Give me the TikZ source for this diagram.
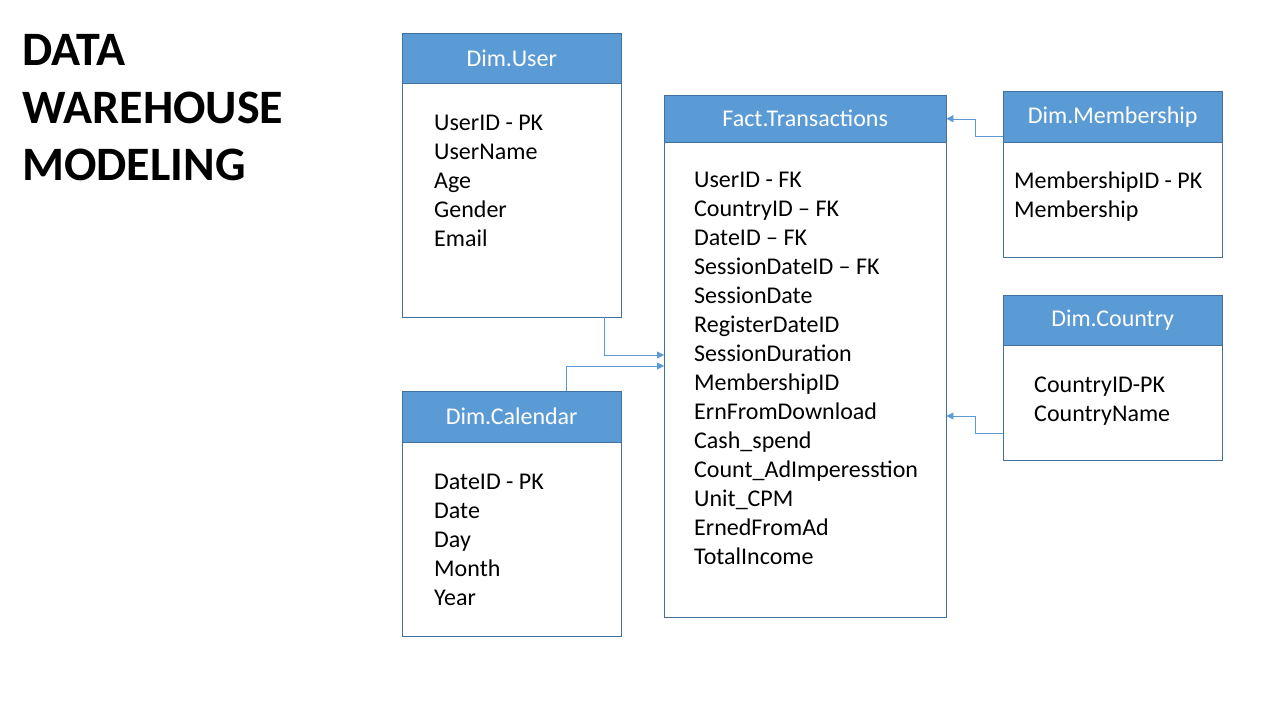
\documentclass[tikz,border=0pt]{standalone}
\usepackage{fontspec}
\setmainfont{Carlito}
\usepackage{tikz}
\usetikzlibrary{positioning,calc,arrows.meta}
\definecolor{hdrblue}{HTML}{5B9BD5}
\definecolor{edgeblue}{HTML}{41719C}

\begin{document}
\begin{tikzpicture}[x=1pt, y=-1pt,
  hdr/.style={draw=edgeblue, fill=hdrblue, text=white, anchor=north west,
              minimum height=50pt, inner sep=0pt, font=\fontsize{24}{28}\selectfont},
  tbl/.style={draw=edgeblue, anchor=north west, inner sep=0pt},
  field/.style={anchor=base west, inner sep=0pt, font=\fontsize{24}{28}\selectfont},
  ttl/.style={anchor=base west, inner sep=0pt, font=\fontsize{48}{57}\selectfont\bfseries},
  link/.style={draw=hdrblue, thin, -{Triangle[length=7pt,width=7pt]}}
]
\useasboundingbox (0,0) rectangle (1280,720);

% Title
\node[ttl] (t1) at (22,65)  {DATA};
\node[ttl] (t2) at (22,123) {WAREHOUSE};
\node[ttl] (t3) at (22,180) {MODELING};

% ======= Dim.User =======
\node[tbl, minimum width=219pt, minimum height=234pt] (ubody) at (402,83) {};
\node[hdr, minimum width=219pt] (uhead) at (402,33) {Dim.User};
\foreach \f [count=\i] in {UserID - PK, UserName, Age, Gender, Email}
  \node[field] (u\i) at (434,101+29*\i) {\f};

% ======= Dim.Calendar =======
\node[tbl, minimum width=219pt, minimum height=194pt] (cbody) at (402,442) {};
\node[hdr, minimum width=219pt, minimum height=51pt] (chead) at (402,391) {Dim.Calendar};
\foreach \f [count=\i] in {DateID - PK, Date, Day, Month, Year}
  \node[field] (c\i) at (434,460+29*\i) {\f};

% ======= Fact.Transactions =======
\node[tbl, minimum width=282pt, minimum height=475pt] (fbody) at (664,142) {};
\node[hdr, minimum width=282pt, minimum height=47pt] (fhead) at (664,95) {Fact.Transactions};
\foreach \f [count=\i] in {UserID - FK, CountryID – FK, DateID – FK, SessionDateID – FK,
    SessionDate, RegisterDateID, SessionDuration, MembershipID, ErnFromDownload,
    Cash\_spend, Count\_AdImperesstion, Unit\_CPM, ErnedFromAd, TotalIncome}
  \node[field] (f\i) at (694,158+29*\i) {\f};

% ======= Dim.Membership =======
\node[tbl, minimum width=219pt, minimum height=115pt] (mbody) at (1003,142) {};
\node[hdr, minimum width=219pt, minimum height=51pt] (mhead) at (1003,91) {Dim.Membership};
\foreach \f [count=\i] in {MembershipID - PK, Membership}
  \node[field] (m\i) at (1014,159+29*\i) {\f};

% ======= Dim.Country =======
\node[tbl, minimum width=219pt, minimum height=115pt] (kbody) at (1003,345) {};
\node[hdr, minimum width=219pt] (khead) at (1003,295) {Dim.Country};
\foreach \f [count=\i] in {CountryID-PK, CountryName}
  \node[field] (k\i) at (1034,363+29*\i) {\f};

% ======= links =======
\draw[link] ($(ubody.south east)+(-17,0)$) |- ($(fbody.north west)+(0,213)$);
\draw[link] ($(chead.north west)+(164,0)$) |- ($(fbody.north west)+(0,224)$);
\draw[link] ($(mhead.south west)+(0,-6)$) -- ++(-28,0) |- (fhead.east);
\draw[link] ($(kbody.north west)+(0,88)$) -- ++(-28,0) |- ($(fbody.north east)+(0,274)$);

\end{tikzpicture}
\end{document}
